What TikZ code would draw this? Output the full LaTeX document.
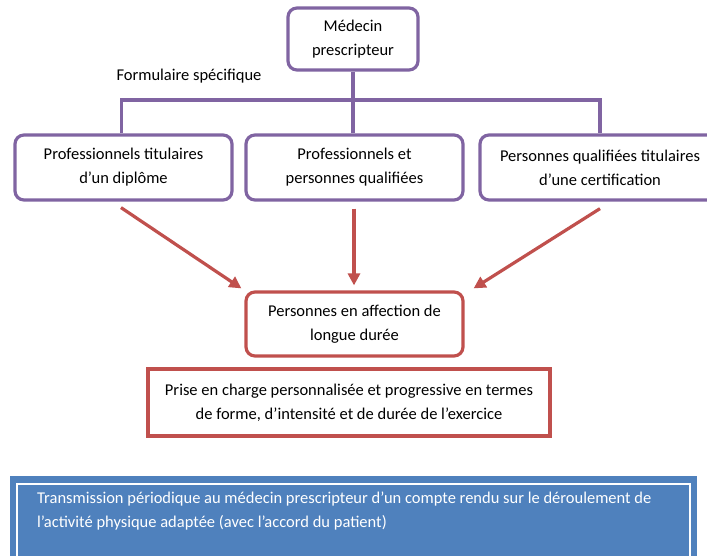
\documentclass[tikz,border=0pt]{standalone}
\usepackage{fontspec}
\setmainfont{Carlito}
\usetikzlibrary{arrows.meta,calc}
\definecolor{purp}{HTML}{8064A2}
\definecolor{redd}{HTML}{C0504D}
\definecolor{blu}{HTML}{4F81BD}
\begin{document}
\begin{tikzpicture}[x=1pt,y=-1pt,
  txt/.style={font=\fontsize{16.5}{24}\selectfont, align=center},
  pbox/.style={txt, draw=purp, line width=3.2pt, rounded corners=9pt, inner sep=0pt},
  rbox/.style={txt, draw=redd, line width=3.2pt, inner sep=0pt},
  rarr/.style={draw=redd, line width=3.2pt, -{Triangle[length=12pt,width=12pt]}},
  conn/.style={draw=purp, line width=3.2pt}]
\useasboundingbox (0,0) rectangle (707,555);
\clip (0,0) rectangle (707,555);
\node[pbox, minimum width=130, minimum height=62] (topb) at (353,39) {Médecin\\prescripteur};
\node[pbox, minimum width=217, minimum height=65] (left) at (123.5,167.5) {Professionnels titulaires\\d’un diplôme};
\node[pbox, minimum width=217, minimum height=65] (mid) at (354.5,167.5) {Professionnels et\\personnes qualifiées};
\node[pbox, minimum width=240, minimum height=65] (right) at (600,167.5) {Personnes qualifiées titulaires\\d’une certification};
\node[txt] (form) at (189,76) {Formulaire spécifique};
\draw[conn] (topb.south) -- (353,100) coordinate (j);
\draw[conn, line join=miter] (left.north -| 121.5,0) |- (j) -| (right.north);
\draw[conn] (j) -- (mid.north -| j);
\node[rbox, rounded corners=9pt, minimum width=217, minimum height=64] (ald) at (354.5,324) {Personnes en affection de\\longue durée};
\node[rbox, minimum width=402, minimum height=67] (prise) at (349,402.5) {Prise en charge personnalisée et progressive en termes\\de forme, d’intensité et de durée de l’exercice};
\draw[rarr] ($(left.south)+(-2.5,6)$) -- ($(ald.north west)+(-3,-2)$);
\draw[rarr] ($(mid.south)+(-0.5,7)$) -- ($(ald.north)+(-0.5,-5)$);
\draw[rarr] ($(right.south)+(0,7)$) -- ($(ald.north east)+(9,-2)$);
\node[fill=blu, draw=none, minimum width=687, minimum height=94, anchor=north west, inner sep=0pt] (blue) at (10,476) {};
\draw[white, line width=1.3pt] (17,484) rectangle (690,600);
\node[txt, text=white, align=left, anchor=base west, inner sep=0pt] (trans) at (37,527) {Transmission périodique au médecin prescripteur d’un compte rendu sur le déroulement de\\l’activité physique adaptée (avec l’accord du patient)};
\end{tikzpicture}
\end{document}
